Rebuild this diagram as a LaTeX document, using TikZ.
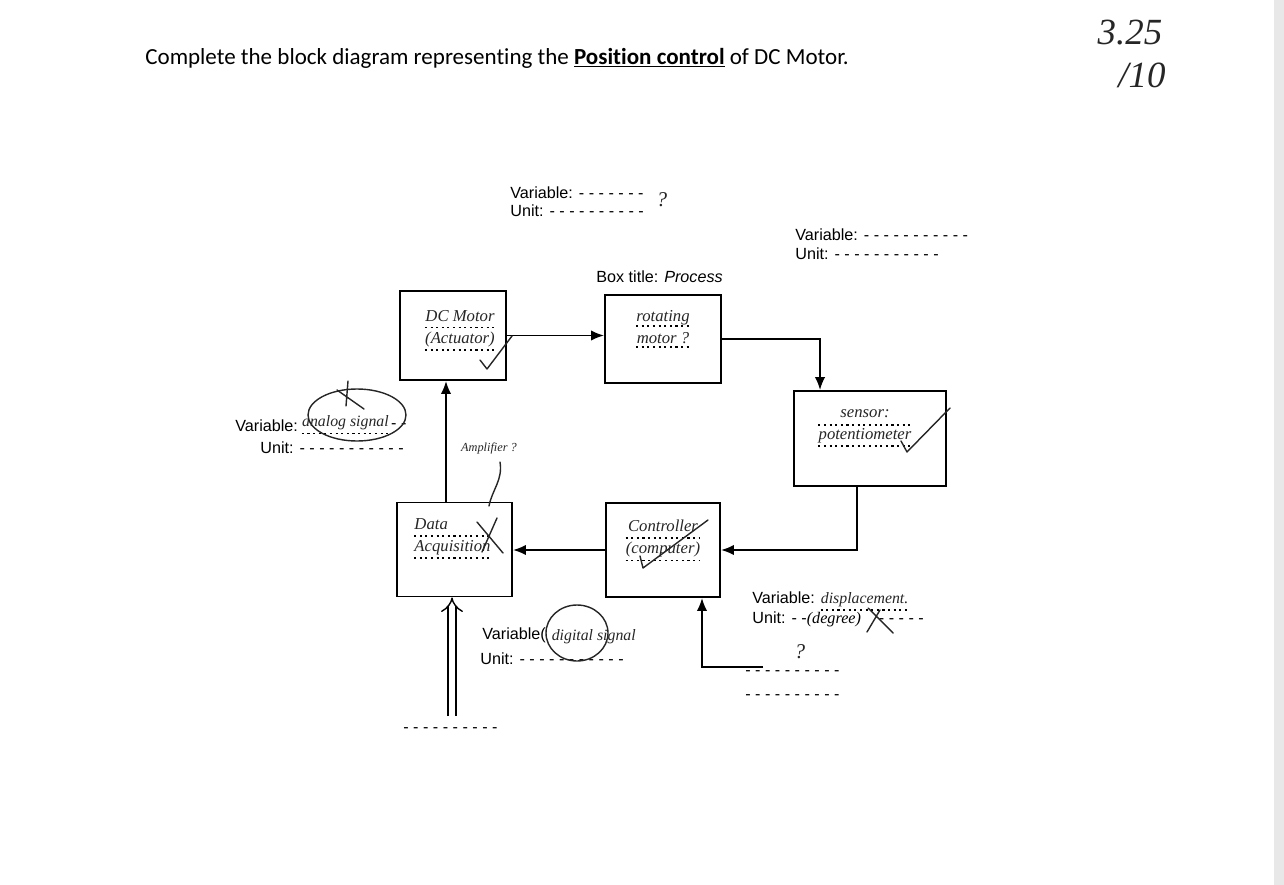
\documentclass[tikz,border=0pt]{standalone}
\usepackage{fontspec}
\setmainfont{Carlito}[Ligatures=NoCommon]
\newfontfamily\formfont{Liberation Sans}
\newfontfamily\handfont{Liberation Serif}
\usepackage{tikz}
\usetikzlibrary{positioning,calc,arrows.meta}

\newcommand{\hw}[1]{{\handfont\itshape #1}}

\begin{document}
\begin{tikzpicture}[x=0.02cm, y=-0.02cm, >={Latex[length=2.6mm, width=2.1mm]},
 block/.style={draw, line width=1.1pt, inner sep=0pt},
 boxtext/.style={inner sep=0pt, align=center, font=\handfont\itshape\fontsize{9.5}{12.5}\selectfont, text=black!85},
 form/.style={anchor=west, inner sep=0pt, font=\formfont\fontsize{9.2}{11}\selectfont},
 hand/.style={inner sep=0pt, font=\handfont\itshape\fontsize{9}{10}\selectfont, text=black!85},
 flow/.style={->, line width=1.1pt},
 dotrule/.style={dash pattern=on 1.2pt off 2pt, line width=1pt},
 pen/.style={line width=0.8pt, black!85, line cap=round, line join=round}]

\useasboundingbox (0,0) rectangle (1284,885);
\fill[gray!18] (1274,0) rectangle (1284,885);

% question and mark
\node[anchor=west, inner sep=0pt, font=\fontsize{13.1}{15}\selectfont] (title) at (145,58)
 {Complete the block diagram representing the \underline{\textbf{Position control}} of DC Motor.};
\node[hand, font=\handfont\itshape\fontsize{21}{22}\selectfont] (score) at (1130,33) {3.25};
\node[hand, font=\handfont\itshape\fontsize{21}{22}\selectfont] (outof) at (1142,75) {/10};

% blocks
\node[block, minimum width=2.12cm, minimum height=1.78cm] (motor) at (453,335.5) {};
\node[block, minimum width=2.32cm, minimum height=1.76cm] (process) at (663,339) {};
\node[block, minimum width=3.04cm, minimum height=1.90cm] (sensor) at (870,438.5) {};
\node[block, minimum width=2.30cm, minimum height=1.88cm] (daq) at (454.5,549.5) {};
\node[block, minimum width=2.28cm, minimum height=1.88cm] (ctrl) at (663,550) {};

\node[boxtext, below=0.4cm of motor.north, xshift=0.14cm] (motortxt) {DC Motor\\(Actuator)};
\node[boxtext, below=0.32cm of process.north] (processtxt) {rotating\\motor ?};
\node[boxtext, below=0.38cm of sensor.north, xshift=-0.1cm] (sensortxt) {sensor:\\potentiometer};
\node[boxtext, below=0.34cm of daq.north, xshift=-0.04cm, align=left] (daqtxt) {Data\\Acquisition};
\node[boxtext, below=0.36cm of ctrl.north] (ctrltxt) {Controller\\(computer)};

\foreach \t in {motortxt, processtxt, sensortxt, daqtxt, ctrltxt}
 \draw[dotrule] ([yshift=0.6pt]\t.west) -- ([yshift=0.6pt]\t.east)
  ([yshift=-1.5pt]\t.south west) -- ([yshift=-1.5pt]\t.south east);

\node[form] (boxtitle) at (596,277) {Box title: \textit{Process}};

% connectors
\coordinate (input) at (452,716);
\coordinate (fbin) at (763,667);
\draw[flow] (motor.east) -- (motor.east -| process.west);
\draw[flow] (process.east) -| ([xshift=-1cm]sensor.north);
\draw[flow] ([xshift=-0.26cm]sensor.south) |- (ctrl.east);
\draw[flow] (ctrl.west) -- (ctrl.west -| daq.east);
\draw[flow] ([xshift=-0.17cm]daq.north) -- ([xshift=-0.17cm]daq.north |- motor.south);
\draw[flow] (fbin) -| ([xshift=0.78cm]ctrl.south);
\draw[-{Implies}, double, double distance=3.6pt, line width=0.8pt] (input) -- (input |- daq.south);

% form labels
\node[form] (topvar) at (510,193) {Variable: - - - - - - -};
\node[form] (topunit) at (510,211) {Unit: - - - - - - - - - -};
\node[hand, font=\handfont\itshape\fontsize{12}{12}\selectfont] (topq) at (662,200) {?};

\node[form] (rightvar) at (795,235) {Variable: - - - - - - - - - - -};
\node[form] (rightunit) at (795,254) {Unit: - - - - - - - - - - -};

\node[form] (leftvar) at (235,426) {Variable:};
\node[hand, right=2pt of leftvar, yshift=2pt] (analog) {analog signal};
\node[form, right=1pt of analog, yshift=-2pt] (leftdash) {- -};
\draw[dotrule] ([yshift=-2pt]analog.south west) -- ([yshift=-2pt]analog.south east);
\node[form] (leftunit) at (260,448) {Unit: - - - - - - - - - - -};
\node[hand, font=\handfont\itshape\fontsize{7}{8}\selectfont] (amp) at (489,448) {Amplifier ?};

\node[form] (botvar) at (482,635) {Variable(};
\node[hand, right=3pt of botvar, yshift=-1pt] (digital) {digital signal};
\node[form] (botunit) at (480,659) {Unit: - - - - - - - - - - -};

\node[form] (dispvar) at (752,598) {Variable:};
\node[hand, right=3pt of dispvar, yshift=-1pt] (disp) {displacement.};
\draw[dotrule] ([yshift=-1.5pt]disp.south west) -- ([yshift=-1.5pt]disp.south east);
\node[form] (dispunit) at (752,619) {Unit: - -\hw{(degree)}\ \ \ \ - - - - -};
\node[hand, font=\handfont\itshape\fontsize{12}{12}\selectfont] (fbq) at (800,652) {?};
\node[form] (fbline) at (745,673) {- - - - - - - - - -};
\node[form] (fbline2) at (745,697) {- - - - - - - - - -};
\node[form] (inline) at (403,730) {- - - - - - - - - -};

% pen marks
\draw[pen] (357,415) ellipse [x radius=49, y radius=26];
\draw[pen] (348,381) -- (346,406) (337,390) -- (364,409);
\draw[pen] (577,633) ellipse [x radius=31, y radius=28];
\draw[pen] (500,462) .. controls (503,480) and (492,490) .. (489,506);
\draw[pen] (480,360) -- (487,369) -- (512,336);
\draw[pen] (950,408) -- (907,452) -- (901,441);
\draw[pen] (477,522) -- (503,553) (497,518) -- (482,552);
\draw[pen] (708,520) -- (643,568) -- (640,556);
\draw[pen] (868,608) -- (893,633) (880,610) -- (867,632);
\end{tikzpicture}
\end{document}
